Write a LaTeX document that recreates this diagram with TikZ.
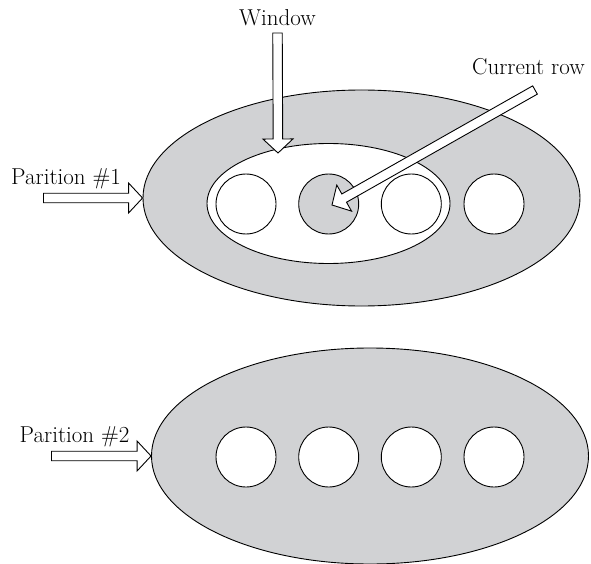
\documentclass[tikz,border=0pt]{standalone}
\usetikzlibrary{shapes.geometric,calc}
\definecolor{partgray}{RGB}{209,210,212}
\tikzset{
  partition/.style={ellipse, draw, fill=partgray, line width=0.9pt, minimum width=437pt, minimum height=216pt, inner sep=0pt},
  windowell/.style={ellipse, draw, fill=white, line width=0.9pt, minimum width=243pt, minimum height=120pt, inner sep=0pt},
  rowcirc/.style={circle, draw, fill=white, line width=0.9pt, minimum size=60pt, inner sep=0pt},
  currcirc/.style={rowcirc, fill=partgray},
  lbl/.style={font=\fontsize{23}{27}\selectfont, inner sep=0pt},
  hollow/.style={draw, fill=white, line width=0.9pt, line join=miter}
}
\newcommand{\hollowarrow}[2]{%
  \path[hollow]
    ($(#1)!4.75pt!90:(#2)$) --
    ($($(#2)!14pt!(#1)$)!4.75pt!-90:(#1)$) --
    ($($(#2)!14pt!(#1)$)!15pt!-90:(#1)$) --
    (#2) --
    ($($(#2)!14pt!(#1)$)!15pt!90:(#1)$) --
    ($($(#2)!14pt!(#1)$)!4.75pt!90:(#1)$) --
    ($(#1)!4.75pt!-90:(#2)$) -- cycle;}
\begin{document}
\begin{tikzpicture}[x=1pt,y=-1pt]
\useasboundingbox (0,0) rectangle (591,564);
% partition 1
\node[partition] (p1) at (361.5,198) {};
\node[windowell] (win) at (328.5,203.5) {};
\node[rowcirc]  (r11) at (246,204) {};
\node[currcirc] (r12) at (328.7,204) {};
\node[rowcirc]  (r13) at (411.3,204) {};
\node[rowcirc]  (r14) at (494,204) {};
% partition 2
\node[partition] (p2) at (370,456) {};
\node[rowcirc] (r21) at (246,457) {};
\node[rowcirc] (r22) at (328.7,457) {};
\node[rowcirc] (r23) at (411.3,457) {};
\node[rowcirc] (r24) at (494,457) {};
% labels
\node[lbl, anchor=base] (lwin) at (277.5,25.7) {Window};
\node[lbl, anchor=base west] (lcur) at (472,74.5) {Current row};
\node[lbl, anchor=base west] (lp1) at (11,184) {Parition \#1};
\node[lbl, anchor=base west] (lp2) at (19.5,442) {Parition \#2};
% arrow ends
\coordinate (wintail) at (277.5,33);
\coordinate (wintip) at (278,153);
\coordinate (curtail) at (535,90);
\coordinate (curtip) at (332,205);
\coordinate (p1tail) at (43.5,198);
\coordinate (p2tail) at (51.5,456);
% arrows
\hollowarrow{wintail}{wintip}
\hollowarrow{curtail}{curtip}
\hollowarrow{p1tail}{p1.west}
\hollowarrow{p2tail}{p2.west}
\end{tikzpicture}
\end{document}
